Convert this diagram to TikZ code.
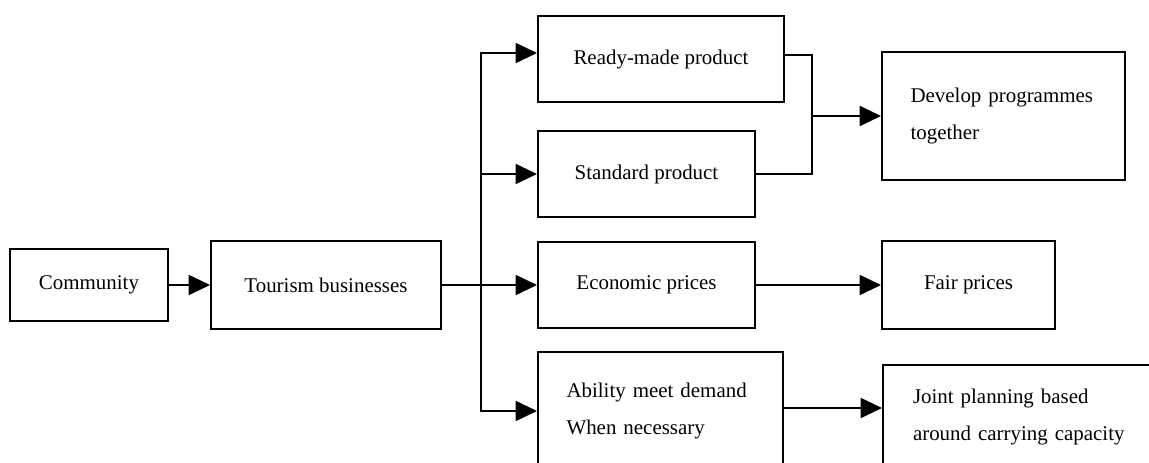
\documentclass[tikz,border=0pt]{standalone}
\usepackage{fontspec}
\setmainfont{Liberation Serif}
\usetikzlibrary{arrows.meta}
\begin{document}
\begin{tikzpicture}[x=0.75pt,y=0.75pt,yscale=-1,
  box/.style={draw, line width=1.5pt, inner sep=0pt, font=\fontsize{15.7}{27.75}\selectfont},
  arr/.style={-{Triangle[length=16pt,width=15pt]}, line width=1.4pt}]
\useasboundingbox (0,0) rectangle (1149,463);
\clip (0,0) rectangle (1149,463);

% Text Node
\node [box, minimum width=158*0.75pt, minimum height=72*0.75pt] (community) at (89,285) {Community};
% Text Node
\node [box, minimum width=230*0.75pt, minimum height=87*0.75pt] (tourism) at (326,285) {Tourism businesses};
% Text Node
\node [box, minimum width=246*0.75pt, minimum height=86*0.75pt] (ready) at (661,59) {Ready-made product};
% Text Node
\node [box, minimum width=217*0.75pt, minimum height=86*0.75pt] (standard) at (646.5,174) {Standard product};
% Text Node
\node [box, minimum width=217*0.75pt, minimum height=85*0.75pt] (economic) at (646.5,285) {Economic prices};
% Text Node
\node [box, minimum width=245*0.75pt, minimum height=118*0.75pt, text width=188*0.75pt, align=left] (ability) at (660.5,411) {Ability meet demand\\When necessary};
% Text Node
\node [box, minimum width=243*0.75pt, minimum height=128*0.75pt, text width=186*0.75pt, align=left] (develop) at (1003.5,116) {Develop programmes\\together};
% Text Node
\node [box, minimum width=173*0.75pt, minimum height=87*0.75pt] (fair) at (968.5,285) {Fair prices};
% Text Node
\node [box, minimum width=282*0.75pt, minimum height=103*0.75pt, text width=222*0.75pt, align=left] (joint) at (1024,416.5) {Joint planning based\\around carrying capacity};

%Connectors
\coordinate (trunk) at (481,285);
\coordinate (join) at (812,116);
\draw [arr] (community) -- (tourism);
\draw [arr] (tourism) -- (economic);
\draw [arr] (trunk) |- ([yshift=-4.5pt]ready.west);
\draw [arr] (trunk) |- (standard);
\draw [arr] (trunk) |- (ability);
\draw [line width=1.4pt] ([yshift=-3pt]ready.east) -| (join) |- (standard.east);
\draw [arr] (join) -- (develop);
\draw [arr] (economic) -- (fair);
\draw [arr] ([yshift=-2.25pt]ability.east) -- ([yshift=-2.25pt]ability.east -| joint.west);

\end{tikzpicture}
\end{document}
